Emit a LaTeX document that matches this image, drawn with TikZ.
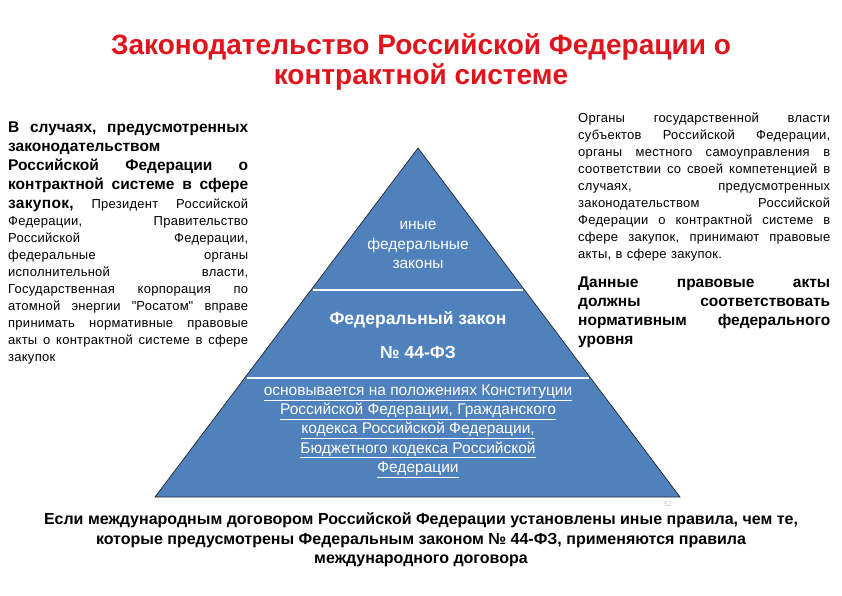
\documentclass[tikz,border=0pt]{standalone}
\usepackage{fontspec}
\setmainfont{Liberation Sans}
\newfontfamily\plainqt{Liberation Sans}
\usepackage{xcolor}
\usepackage{tikz}
\usetikzlibrary{positioning,calc}

\definecolor{titlered}{RGB}{224,20,28}
\definecolor{pyrblue}{RGB}{79,129,189}
% justified line of a fixed width
\newcommand{\lj}[1]{\makebox[240pt][s]{\frenchspacing\spaceskip=0.28em plus 1fil\relax #1}}
\newcommand{\rj}[1]{\makebox[252pt][s]{\frenchspacing\spaceskip=0.28em plus 1fil\relax #1}}
\newcommand{\qt}{{\plainqt"}}

\begin{document}
\begin{tikzpicture}[x=1pt,y=-1pt]
\useasboundingbox (0,0) rectangle (842,595);

\node (title) [titlered, align=center, font=\fontsize{28}{30}\selectfont\bfseries] at (421,62)
  {Законодательство Российской Федерации о\\контрактной системе};

% pyramid
\coordinate (apex) at (418,148);
\coordinate (bl) at (155,497);
\coordinate (br) at (680,497);
\filldraw[fill=pyrblue, draw=black!85, line width=0.7pt] (apex) -- (br) -- (bl) -- cycle;
\draw[white, line width=1.8pt] ($(apex)!0.407!(bl)+(2,0)$) -- ($(apex)!0.407!(br)+(-2,0)$);
\draw[white, line width=1.8pt] ($(apex)!0.659!(bl)+(2,0)$) -- ($(apex)!0.659!(br)+(-2,0)$);

\node (inye) [white, align=center, font=\fontsize{15.5}{19.5}\selectfont] at (418,245)
  {иные\\федеральные\\законы};
\node (fz) [white, font=\fontsize{17.5}{18}\selectfont\bfseries] at (418,320) {Федеральный закон};
\node (fznum) [white, font=\fontsize{17.5}{18}\selectfont\bfseries] at (418,352) {№ 44-ФЗ};
\node (osnova) [white, align=center, font=\fontsize{15.5}{19.3}\selectfont] at (418,431)
  {\underline{основывается на положениях Конституции}\\
   \underline{Российской Федерации, Гражданского}\\
   \underline{кодекса Российской Федерации,}\\
   \underline{Бюджетного кодекса Российской}\\
   \underline{Федерации}};

% left column
\node (leftbold) [anchor=base west, inner sep=0pt, align=left, text width=240pt,
  font=\fontsize{15.5}{19}\selectfont\bfseries] at (8,132)
  {\lj{В случаях, предусмотренных}\\
   законодательством\\
   \lj{Российской Федерации о}\\
   \lj{контрактной системе в сфере}};
\node (leftreg) [anchor=base west, inner sep=0pt, align=left, text width=240pt,
  font=\fontsize{13}{17}\selectfont\addfontfeature{LetterSpace=2}] at (8,208)
  {\lj{{\fontsize{15.5}{17}\selectfont\bfseries закупок,} Президент Российской}\\
   \lj{Федерации, Правительство}\\
   \lj{Российской Федерации,}\\
   \lj{федеральные органы}\\
   \lj{исполнительной власти,}\\
   \lj{Государственная корпорация по}\\
   \lj{атомной энергии \qt Росатом\qt{} вправе}\\
   \lj{принимать нормативные правовые}\\
   \lj{акты о контрактной системе в сфере}\\
   закупок};

% right column
\node (rightreg) [anchor=base west, inner sep=0pt, align=left, text width=252pt,
  font=\fontsize{13}{17}\selectfont\addfontfeature{LetterSpace=2}] at (578,122)
  {\rj{Органы государственной власти}\\
   \rj{субъектов Российской Федерации,}\\
   \rj{органы местного самоуправления в}\\
   \rj{соответствии со своей компетенцией в}\\
   \rj{случаях, предусмотренных}\\
   \rj{законодательством Российской}\\
   \rj{Федерации о контрактной системе в}\\
   \rj{сфере закупок, принимают правовые}\\
   акты, в сфере закупок.};
\node (rightbold) [anchor=base west, inner sep=0pt, align=left, text width=252pt,
  font=\fontsize{15.5}{19}\selectfont\bfseries] at (578,287)
  {\rj{Данные правовые акты}\\
   \rj{должны соответствовать}\\
   \rj{нормативным федерального}\\
   уровня};

% bottom note
\node (pgnum) [gray!45, font=\fontsize{7}{8}\selectfont] at (668,504) {52};
\node (intl) [align=center, font=\fontsize{16}{19.5}\selectfont\bfseries] at (421,540)
  {Если международным договором Российской Федерации установлены иные правила, чем те,\\
   которые предусмотрены Федеральным законом № 44-ФЗ, применяются правила\\
   международного договора};
\end{tikzpicture}
\end{document}
